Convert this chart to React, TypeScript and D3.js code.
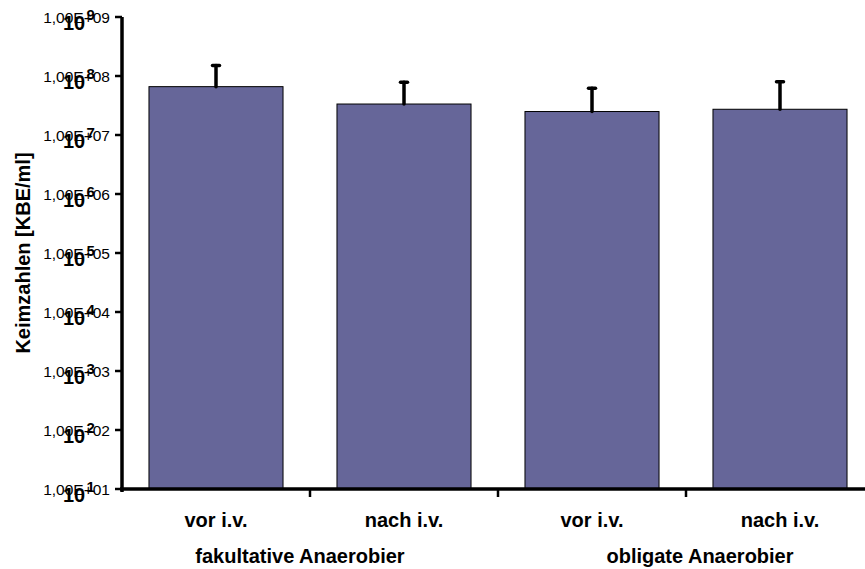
import React from "react";
import * as d3 from "d3";

const categories = ["vor i.v.", "nach i.v.", "vor i.v.", "nach i.v."];
const groups = ["fakultative Anaerobier", "obligate Anaerobier"];
const means = [6.6e7, 3.35e7, 2.5e7, 2.73e7];
const upperErr = [1.5e8, 7.8e7, 6.2e7, 8.0e7];
const tickExponents = [1, 2, 3, 4, 5, 6, 7, 8, 9];
const tickLabels = ["1,00E+01", "1,00E+02", "1,00E+03", "1,00E+04", "1,00E+05", "1,00E+06", "1,00E+07", "1,00E+08", "1,00E+09"];
const yTitle = "Keimzahlen [KBE/ml]";

const W = 865;
const H = 569;
const FONT = "'Liberation Sans', Arial, sans-serif";

export default function App() {
  const x = d3
    .scaleBand<number>()
    .domain(categories.map((_, i) => i))
    .range([122, 874])
    .paddingInner(0.287)
    .paddingOuter(0.1435);
  const y = d3.scaleLog().domain([10, 1e9]).range([489, 17]);
  const step = x.step();
  const bw = x.bandwidth();
  const boundaries = [1, 2, 3].map((i) => (x(i) as number) - (step - bw) / 2);
  const groupCenters = [
    ((x(0) as number) + (x(1) as number) + bw) / 2 - 10,
    ((x(2) as number) + (x(3) as number) + bw) / 2 + 14,
  ];

  return (
    <svg
      width={W}
      height={H}
      style={{ position: "absolute", left: 0, top: 0, background: "#fff" }}
      fontFamily={FONT}
    >
      <rect x={0} y={0} width={W} height={H} fill="#fff" />
      {means.map((m, i) => (
        <rect
          key={"b" + i}
          x={x(i)}
          y={y(m)}
          width={bw}
          height={y(10) - y(m)}
          fill="#666699"
          stroke="#000"
          strokeWidth={1}
        />
      ))}
      {means.map((m, i) => {
        const cx = (x(i) as number) + bw / 2;
        return (
          <g key={"e" + i} stroke="#000" strokeWidth={3.5} strokeLinecap="round">
            <line x1={cx} x2={cx} y1={y(m)} y2={y(upperErr[i])} />
            <line x1={cx - 3.5} x2={cx + 3.5} y1={y(upperErr[i])} y2={y(upperErr[i])} />
          </g>
        );
      })}
      <line x1={122} x2={122} y1={y(1e9)} y2={492} stroke="#000" strokeWidth={3.5} />
      {tickExponents.map((e, i) => {
        const ty = y(Math.pow(10, e));
        return (
          <g key={"t" + e}>
            <line x1={115} x2={122} y1={ty} y2={ty} stroke="#000" strokeWidth={2.5} />
            <text x={110} y={ty + 6} fontSize={15.5} textAnchor="end" fill="#000">
              {tickLabels[i]}
            </text>
            <text x={63} y={ty + 13} fontSize={20} fontWeight="bold" fill="#000">
              10
            </text>
            <text x={86.5} y={ty + 3} fontSize={15} fontWeight="bold" fill="#000">
              {e}
            </text>
          </g>
        );
      })}
      <line x1={120} x2={W} y1={489} y2={489} stroke="#000" strokeWidth={3.5} />
      {boundaries.map((bx, i) => (
        <line key={"xt" + i} x1={bx} x2={bx} y1={489} y2={497} stroke="#000" strokeWidth={2.5} />
      ))}
      {categories.map((c, i) => (
        <text
          key={"c" + i}
          x={(x(i) as number) + bw / 2}
          y={527}
          fontSize={20}
          fontWeight="bold"
          textAnchor="middle"
          fill="#000"
        >
          {c}
        </text>
      ))}
      {groups.map((g, i) => (
        <text
          key={"g" + i}
          x={groupCenters[i]}
          y={563}
          fontSize={20}
          fontWeight="bold"
          textAnchor="middle"
          fill="#000"
        >
          {g}
        </text>
      ))}
      <text
        transform={`translate(30, ${253}) rotate(-90)`}
        fontSize={20}
        fontWeight="bold"
        textAnchor="middle"
        fill="#000"
      >
        {yTitle}
      </text>
    </svg>
  );
}
